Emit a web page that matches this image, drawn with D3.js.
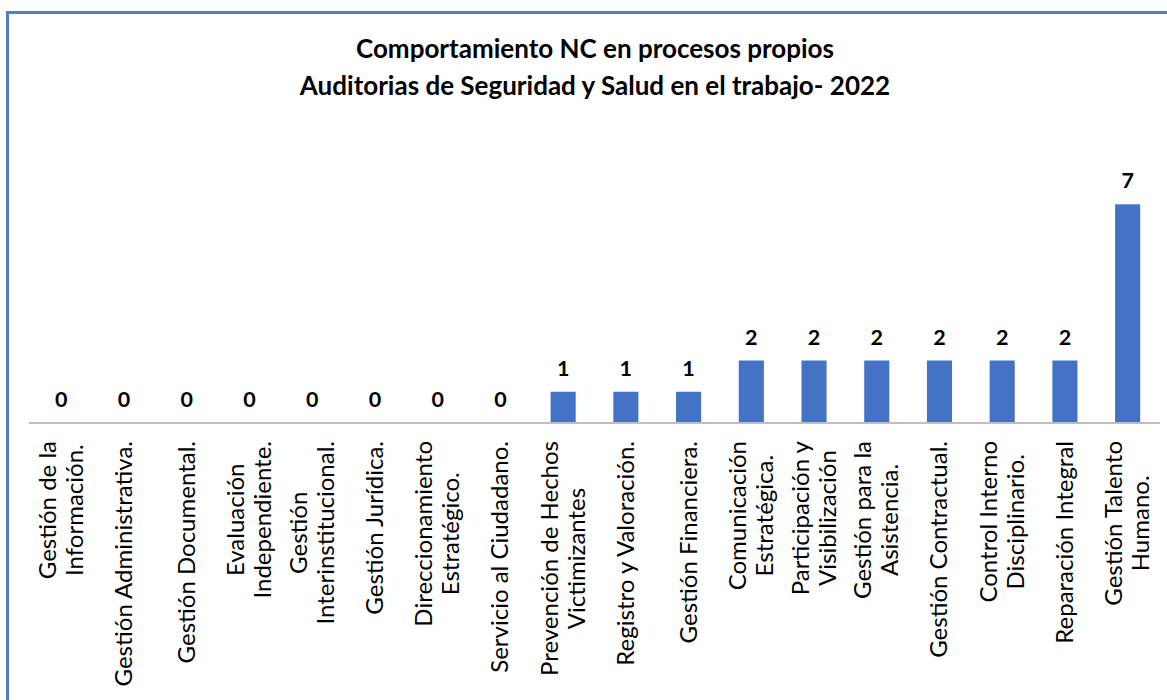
<!DOCTYPE html>
<html>
<head>
<meta charset="utf-8">
<script src="https://cdn.jsdelivr.net/npm/d3@7"></script>
<style>
  html, body { margin: 0; padding: 0; background: #fff; }
  svg { display: block; }
</style>
</head>
<body>
<svg id="chart" width="1167" height="700"></svg>
<script>
const titleLines = ["Comportamiento NC en procesos propios", "Auditorias de Seguridad y Salud en el trabajo- 2022"];
const categories = [
  "Gestión de la\nInformación.",
  "Gestión Administrativa.",
  "Gestión Documental.",
  "Evaluación\nIndependiente.",
  "Gestión\nInterinstitucional.",
  "Gestión Jurídica.",
  "Direccionamiento\nEstratégico.",
  "Servicio al Ciudadano.",
  "Prevención de Hechos\nVictimizantes",
  "Registro y Valoración.",
  "Gestión Financiera.",
  "Comunicación\nEstratégica.",
  "Participación y\nVisibilización",
  "Gestión para la\nAsistencia.",
  "Gestión Contractual.",
  "Control Interno\nDisciplinario.",
  "Reparación Integral",
  "Gestión Talento\nHumano."
];
const values = [0, 0, 0, 0, 0, 0, 0, 0, 1, 1, 1, 2, 2, 2, 2, 2, 2, 7];

const svg = d3.select("#chart");
const FONT = "Lato, 'Open Sans', sans-serif";

// Chart frame (cropped at right & bottom like the reference)
svg.append("rect")
  .attr("x", 7.5).attr("y", 12.5)
  .attr("width", 1200).attr("height", 720)
  .attr("fill", "none")
  .attr("stroke", "#4F81BD")
  .attr("stroke-width", 3);

// Title
svg.append("g").selectAll("text")
  .data(titleLines)
  .join("text")
  .attr("x", 595)
  .attr("y", (d, i) => 58 + i * 37)
  .attr("text-anchor", "middle")
  .attr("font-family", FONT)
  .attr("font-weight", "bold")
  .attr("font-size", 26)
  .attr("fill", "#000")
  .text(d => d);

const baseY = 423;
const x = d3.scaleBand()
  .domain(categories)
  .range([30, 1159])
  .paddingInner(0.6)
  .paddingOuter(0.3);

const y = d3.scaleLinear()
  .domain([0, 7])
  .range([baseY, 204.3]);

// Bars
svg.append("g").selectAll("rect")
  .data(values)
  .join("rect")
  .attr("x", (d, i) => x(categories[i]))
  .attr("y", d => y(d))
  .attr("width", x.bandwidth())
  .attr("height", d => y(0) - y(d))
  .attr("fill", "#4472C4");

// Axis
const axis = d3.axisBottom(x).tickSize(0).tickFormat("");
const axisG = svg.append("g")
  .attr("transform", `translate(0,${baseY})`)
  .call(axis);
axisG.select(".domain").attr("stroke", "#BFBFBF").attr("stroke-width", 2)
  .attr("d", `M29,0H1160`);

// Value labels
svg.append("g").selectAll("text")
  .data(values)
  .join("text")
  .attr("x", (d, i) => x(categories[i]) + x.bandwidth() / 2)
  .attr("y", d => y(d) - 16)
  .attr("text-anchor", "middle")
  .attr("font-family", FONT)
  .attr("font-weight", "bold")
  .attr("font-size", 21.5)
  .attr("fill", "#000")
  .text(d => d);

// Category labels (rotated, lines centred, block anchored below axis)
const lineGap = 27;
const labelTop = 441;
const labG = svg.append("g");
categories.forEach((c, i) => {
  const lines = c.split("\n");
  const cx = x(c) + x.bandwidth() / 2;
  const g = labG.append("g");
  const texts = lines.map((ln, j) => g.append("text")
    .attr("font-family", FONT)
    .attr("font-size", 24)
    .attr("fill", "#000")
    .attr("text-anchor", "middle")
    .text(ln));
  const maxLen = d3.max(texts, t => t.node().getComputedTextLength());
  const n = lines.length;
  texts.forEach((t, j) => {
    const off = (j - (n - 1) / 2) * lineGap;
    const bx = cx + off + 8;
    const my = labelTop + maxLen / 2;
    t.attr("transform", `translate(${bx},${my}) rotate(-90)`);
  });
});
</script>
</body>
</html>
